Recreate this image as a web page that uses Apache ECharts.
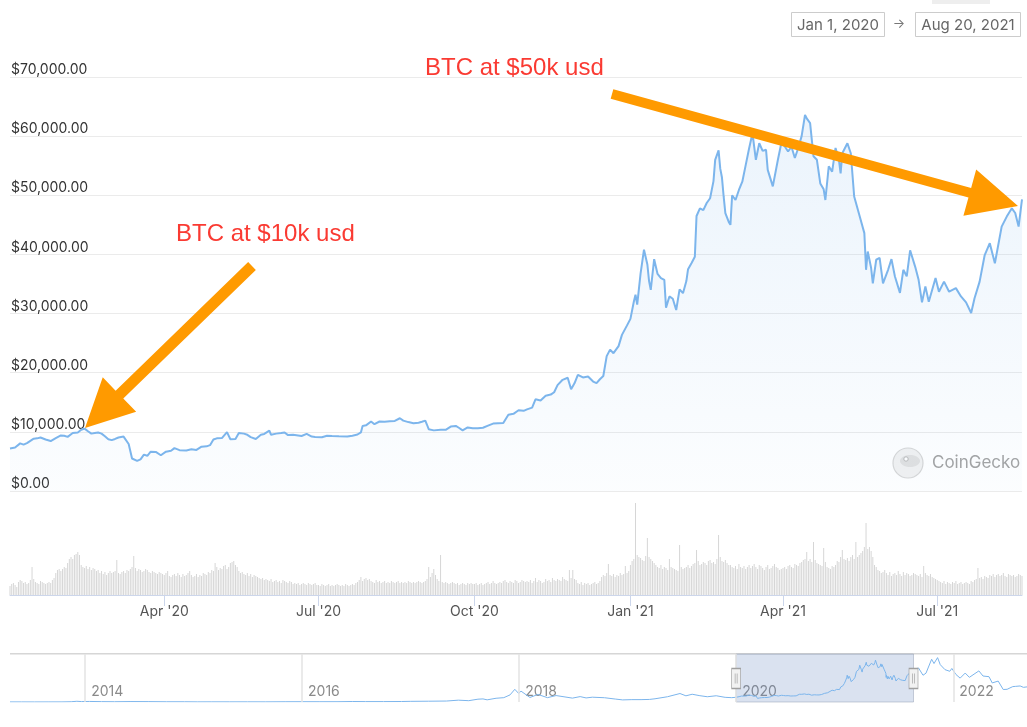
<!DOCTYPE html>
<html><head><meta charset="utf-8">
<script src="https://cdn.jsdelivr.net/npm/echarts@6/dist/echarts.min.js"></script>
<style>html,body{margin:0;padding:0;background:#fff}#c{width:1027px;height:727px}</style>
</head><body><div id="c"></div>
<script>
// ---------------- DATA ----------------
const priceDates = [
'2020-01-01','2020-01-04','2020-01-07','2020-01-09','2020-01-11','2020-01-15','2020-01-17','2020-01-19','2020-01-22','2020-01-25','2020-01-28','2020-01-31',
'2020-02-02','2020-02-04','2020-02-07','2020-02-10','2020-02-12','2020-02-14','2020-02-16','2020-02-18','2020-02-20','2020-02-22','2020-02-24','2020-02-26','2020-02-28',
'2020-03-01','2020-03-03','2020-03-05','2020-03-08','2020-03-09','2020-03-11','2020-03-13','2020-03-14','2020-03-16','2020-03-18','2020-03-20','2020-03-22','2020-03-24','2020-03-27','2020-03-30',
'2020-04-02','2020-04-05','2020-04-07','2020-04-10','2020-04-14','2020-04-17','2020-04-20','2020-04-23','2020-04-26','2020-04-28','2020-04-30',
'2020-05-02','2020-05-05','2020-05-08','2020-05-10','2020-05-11','2020-05-13','2020-05-15','2020-05-18','2020-05-20','2020-05-22','2020-05-25','2020-05-28','2020-05-30',
'2020-06-02','2020-06-03','2020-06-06','2020-06-09','2020-06-11','2020-06-13','2020-06-16','2020-06-19','2020-06-21','2020-06-24','2020-06-27','2020-06-29',
'2020-07-03','2020-07-06','2020-07-09','2020-07-13','2020-07-18','2020-07-21','2020-07-24','2020-07-26','2020-07-27','2020-07-29',
'2020-08-01','2020-08-03','2020-08-06','2020-08-09','2020-08-12','2020-08-15','2020-08-18','2020-08-20','2020-08-23','2020-08-26','2020-08-29','2020-08-31',
'2020-09-02','2020-09-03','2020-09-04','2020-09-07','2020-09-11','2020-09-14','2020-09-17','2020-09-20','2020-09-22','2020-09-24','2020-09-27','2020-09-30',
'2020-10-03','2020-10-06','2020-10-09','2020-10-12','2020-10-15','2020-10-18','2020-10-21','2020-10-24','2020-10-27','2020-10-30',
'2020-11-01','2020-11-04','2020-11-06','2020-11-09','2020-11-12','2020-11-15','2020-11-17','2020-11-19','2020-11-22','2020-11-25','2020-11-27','2020-11-29',
'2020-12-01','2020-12-04','2020-12-07','2020-12-10','2020-12-12','2020-12-14','2020-12-16','2020-12-18','2020-12-20','2020-12-22','2020-12-25','2020-12-27','2020-12-30',
'2021-01-01','2021-01-03','2021-01-04','2021-01-05','2021-01-07','2021-01-09','2021-01-11','2021-01-12','2021-01-13','2021-01-15','2021-01-17','2021-01-19','2021-01-21','2021-01-22','2021-01-24','2021-01-26','2021-01-27','2021-01-28','2021-01-30',
'2021-02-01','2021-02-03','2021-02-04','2021-02-06','2021-02-08','2021-02-09','2021-02-11','2021-02-13','2021-02-15','2021-02-17','2021-02-19','2021-02-20','2021-02-22','2021-02-23','2021-02-24','2021-02-25','2021-02-26','2021-02-28',
'2021-03-01','2021-03-02','2021-03-04','2021-03-06','2021-03-08','2021-03-10','2021-03-12','2021-03-14','2021-03-16','2021-03-18','2021-03-20','2021-03-22','2021-03-23','2021-03-26','2021-03-29','2021-03-31',
'2021-04-02','2021-04-04','2021-04-06','2021-04-08','2021-04-10','2021-04-12','2021-04-14','2021-04-15','2021-04-17','2021-04-19','2021-04-21','2021-04-23','2021-04-25','2021-04-26','2021-04-28','2021-04-30',
'2021-05-02','2021-05-04','2021-05-05','2021-05-06','2021-05-09','2021-05-11','2021-05-13','2021-05-16','2021-05-19','2021-05-20','2021-05-21','2021-05-23','2021-05-24','2021-05-26','2021-05-28','2021-05-30',
'2021-06-02','2021-06-04','2021-06-06','2021-06-09','2021-06-11','2021-06-13','2021-06-15','2021-06-18','2021-06-20','2021-06-22','2021-06-24','2021-06-26','2021-06-30',
'2021-07-02','2021-07-05','2021-07-08','2021-07-12','2021-07-15','2021-07-18','2021-07-21','2021-07-23','2021-07-26','2021-07-29',
'2021-08-01','2021-08-04','2021-08-08','2021-08-11','2021-08-14','2021-08-16','2021-08-18','2021-08-20'
];
const priceValues = [
7200,7350,8050,7850,8100,8850,8900,9050,8700,8450,8950,9400,
9350,9150,9800,9900,10350,10550,10100,9700,9800,9900,9700,9250,8750,
8600,8800,9050,9200,8900,7950,5500,5400,5100,5350,6150,5950,6650,6600,6050,
6650,6800,7250,6900,6850,7050,6950,7500,7550,7750,8700,
8900,8950,9950,8750,8600,8800,9800,9700,9500,9100,8800,9500,9650,
10200,9500,9700,9800,9900,9450,9500,9400,9300,9650,9200,9150,
9100,9350,9300,9250,9200,9350,9550,9900,11000,11100,
11750,11300,11750,11700,11800,11850,12300,11900,11650,11450,11550,11700,
11900,11200,10450,10250,10350,10350,10900,11000,10650,10250,10750,10600,
10600,10700,11050,11400,11450,11500,12900,13050,13650,13550,
13800,14100,15500,15300,16100,16300,16700,17900,18800,19150,17200,18200,
19650,19200,19350,18500,18250,18900,19450,22800,23900,23300,24500,26400,28000,
29100,32000,33200,31500,36800,40800,38300,35500,34000,39200,36700,36000,35700,31000,32900,32500,32700,30600,34100,
33450,35500,37500,38500,39600,46500,47800,47500,48700,49500,52400,56000,57600,54500,53000,49800,47000,45500,
45000,50000,49200,50900,52300,55100,57900,60500,56000,58800,57500,57700,54300,51500,56000,58800,
58300,57400,58200,56300,58000,60000,63600,63000,62200,56600,56000,52000,51000,49200,54900,54000,
58000,56000,53700,57100,58800,57100,49800,46700,43600,37400,40500,37700,35100,39100,39400,35100,
37400,39200,36300,33500,37400,36300,40700,37900,35700,31900,34600,32000,36000,
33700,35400,33700,34300,32900,31900,30100,32600,35400,39900,
41900,38500,44700,46400,47800,47000,44700,49300
];
// daily volume (billions USD), Jan 1 2020 .. Aug 20 2021
const volumeStart = '2020-01-01';
const volumes = [
9,11,12,10,8,13,15,14,12,13,11,12,15,28,16,13,12,11,14,13,12,11,12,13,12,15,17,22,25,26,24,
26,28,27,32,36,38,36,40,41,43,40,30,28,27,29,26,28,25,27,26,24,25,22,24,21,23,20,22,24,
22,23,24,35,22,21,23,24,22,25,24,26,28,39,27,24,26,25,23,24,26,25,23,22,24,23,22,21,23,22,21,
20,22,24,19,18,20,21,19,22,20,18,21,19,20,22,24,20,18,19,21,18,20,19,22,21,20,23,22,25,24,
32,28,25,27,26,29,30,26,28,32,33,34,30,28,24,22,23,21,20,22,19,21,18,20,19,18,17,16,17,15,16,
15,14,16,13,14,15,13,14,12,15,14,13,12,14,13,11,12,11,12,10,11,12,11,10,12,11,10,11,12,10,
10,9,11,10,9,10,11,9,10,9,10,11,10,9,10,9,11,10,9,10,11,10,12,13,15,18,14,16,17,15,16,
14,13,12,15,13,14,12,13,14,12,13,12,14,13,12,13,14,12,13,12,13,12,14,13,12,13,12,13,14,13,12,
13,14,16,28,18,22,26,20,16,14,40,13,12,13,12,11,12,13,12,11,12,10,11,12,11,10,12,11,12,11,
11,12,10,11,12,10,11,12,13,11,12,14,12,11,12,13,12,14,15,13,12,14,13,12,15,14,12,13,15,14,13,
14,13,15,12,14,17,13,15,14,12,13,16,14,15,13,17,15,14,16,15,14,18,16,15,14,25,17,25,16,15,
12,11,13,10,12,11,12,10,11,12,13,11,12,14,18,20,19,22,31,20,19,21,18,20,19,22,20,21,29,22,24,
30,34,36,92,40,38,37,35,34,39,57,38,36,34,32,30,28,27,30,26,28,27,25,36,28,27,26,25,24,50,28,
26,27,28,30,27,29,31,32,45,34,30,31,33,32,30,34,35,32,33,31,36,60,38,34,33,35,32,30,
30,28,27,29,26,31,28,27,29,26,28,30,27,29,31,28,26,30,29,27,25,28,30,26,27,29,31,28,27,25,26,
27,28,26,29,30,28,27,31,30,29,32,33,35,36,43,34,36,33,53,35,32,31,30,29,47,33,28,27,26,29,
28,30,34,33,38,45,36,35,37,34,38,40,36,53,38,40,42,44,48,72,46,48,44,38,30,28,25,24,22,23,25,
22,20,23,19,21,22,20,24,21,19,23,20,22,21,19,20,22,21,20,19,21,18,29,22,20,19,21,18,17,16,
15,14,13,12,14,11,13,12,11,13,12,14,11,12,13,11,12,13,12,11,14,13,15,16,27,17,18,16,19,18,17,
20,19,21,18,20,21,19,20,22,19,18,21,20,19,20,18,19,21,20,19
];
// navigator (full history)
const navEarlyDates = ['2013-04-23','2013-06-01','2013-07-15','2013-09-01','2013-10-15','2013-11-15','2013-12-04','2013-12-20',
'2014-01-15','2014-02-25','2014-04-10','2014-06-01','2014-08-01','2014-10-01','2014-12-01',
'2015-01-15','2015-03-01','2015-05-01','2015-07-01','2015-09-01','2015-11-05',
'2016-01-01','2016-03-01','2016-05-01','2016-06-18','2016-08-01','2016-10-01','2016-12-01',
'2017-01-01','2017-03-01','2017-05-01','2017-06-10','2017-07-15','2017-08-15','2017-09-01','2017-09-15','2017-10-15','2017-11-10','2017-12-01','2017-12-17','2017-12-30',
'2018-01-07','2018-02-06','2018-03-05','2018-04-06','2018-05-05','2018-06-29','2018-07-25','2018-08-14','2018-09-04','2018-10-15','2018-11-20','2018-12-15',
'2019-01-15','2019-02-15','2019-03-15','2019-04-03','2019-05-15','2019-06-26','2019-07-16','2019-08-06','2019-09-01','2019-09-26','2019-10-26','2019-11-25','2019-12-17'];
const navEarlyValues = [140,120,95,135,150,420,1100,650,
850,550,420,650,590,380,370,
210,260,235,260,230,400,
430,420,450,750,600,610,750,
1000,1200,1450,2800,2000,4300,4700,3300,5700,6600,10800,19300,13000,
16500,6900,11500,6600,9800,5900,8200,6200,7300,6500,4500,3200,
3600,3600,3900,4900,8000,12900,9400,11800,9600,8000,9500,7100,6600];
const navLateDates = ['2021-08-23','2021-09-06','2021-09-21','2021-10-01','2021-10-20','2021-10-28','2021-11-09','2021-11-18','2021-12-04','2021-12-20','2021-12-27',
'2022-01-10','2022-01-24','2022-02-10','2022-02-24','2022-03-28','2022-04-11','2022-05-01','2022-05-12','2022-06-01','2022-06-18','2022-07-01','2022-07-20','2022-07-30','2022-08-14','2022-08-25','2022-09-06'];
const navLateValues = [49500,51700,40700,43800,65000,58500,67500,56800,49200,46700,51000,
41800,36300,44000,37500,47300,39500,38500,29000,31800,19000,19300,23400,23800,24400,22300,23000];

// axis ticks / labels
const mainTickDates = ['2020-04-01','2020-07-01','2020-10-01','2021-01-01','2021-04-01','2021-07-01'];
const navYearTicks = ['2014-01-01','2016-01-01','2018-01-01','2020-01-01','2022-01-01'];
const rangeStart = '2020-01-01', rangeEnd = '2021-08-20';
const navStart = '2013-04-23', navEnd = '2022-09-06';
const monthNames = ['Jan','Feb','Mar','Apr','May','Jun','Jul','Aug','Sep','Oct','Nov','Dec'];

// ---------------- BUILD ----------------
const ts = s => new Date(s + 'T00:00:00').getTime();
const priceData = priceDates.map((d, i) => [ts(d), priceValues[i]]);
const v0 = ts(volumeStart);
const volData = volumes.map((v, i) => { const d = new Date(v0); d.setDate(d.getDate() + i); return [d.getTime(), v]; });
const navData = navEarlyDates.map((d, i) => [ts(d), navEarlyValues[i]])
  .concat(priceData)
  .concat(navLateDates.map((d, i) => [ts(d), navLateValues[i]]));
const NAV_MAX = 73000;

function fmtMoney(v) {
  const s = Math.round(v).toString().replace(/\B(?=(\d{3})+(?!\d))/g, ',');
  return '$' + s + '.00';
}
function arrow(tail, tip, sw, hw, hl, color) {
  const dx = tip[0] - tail[0], dy = tip[1] - tail[1], L = Math.hypot(dx, dy);
  const ux = dx / L, uy = dy / L, px = -uy, py = ux;
  const bx = tip[0] - ux * hl, by = tip[1] - uy * hl;
  const pts = [
    [tail[0] + px * sw / 2, tail[1] + py * sw / 2],
    [bx + px * sw / 2, by + py * sw / 2],
    [bx + px * hw / 2, by + py * hw / 2],
    [tip[0], tip[1]],
    [bx - px * hw / 2, by - py * hw / 2],
    [bx - px * sw / 2, by - py * sw / 2],
    [tail[0] - px * sw / 2, tail[1] - py * sw / 2]
  ];
  return { type: 'polygon', z: 100, shape: { points: pts }, style: { fill: color } };
}

const FONT = 'Inter, "Noto Sans", sans-serif';
const chart = echarts.init(document.getElementById('c'), null, { renderer: 'canvas' });
chart.setOption({
  animation: false,
  backgroundColor: '#ffffff',
  grid: [
    { left: 10, right: 5, top: 77, height: 414 },
    { left: 10, right: 5, top: 495, height: 100 },
    { left: 10, right: 0, top: 654, height: 48 }
  ],
  xAxis: [
    { gridIndex: 0, type: 'value', min: ts(rangeStart), max: ts(rangeEnd), show: false, splitLine: { show: false } },
    { gridIndex: 1, type: 'value', min: ts(rangeStart), max: ts(rangeEnd),
      axisLine: { show: true, lineStyle: { color: '#ccd6eb', width: 1 } },
      axisTick: { show: true, length: 11, lineStyle: { color: '#ccd6eb' }, customValues: mainTickDates.map(ts) },
      axisLabel: { show: true, customValues: mainTickDates.map(ts), margin: 10, color: '#555', fontSize: 14, fontFamily: FONT,
        formatter: v => { const d = new Date(v); return monthNames[d.getMonth()] + " '" + String(d.getFullYear()).slice(2); } },
      splitLine: { show: false } },
    { gridIndex: 2, type: 'value', min: ts(navStart), max: ts(navEnd),
      axisLine: { show: false }, axisTick: { show: false }, splitLine: { show: false },
      axisLabel: { show: true, inside: true, customValues: navYearTicks.map(ts), margin: 3, color: '#8a8a8a', fontSize: 14, fontFamily: FONT,
        align: 'left', padding: [0, 0, 0, 6], verticalAlign: 'bottom',
        formatter: v => String(new Date(v).getFullYear()) } }
  ],
  yAxis: [
    { gridIndex: 0, type: 'value', min: 0, max: 70000, interval: 10000,
      axisLine: { show: false }, axisTick: { show: false },
      splitLine: { show: true, lineStyle: { color: '#ebebeb', width: 1 } },
      axisLabel: { inside: true, margin: 1, align: 'left', verticalAlign: 'bottom', color: '#333', fontSize: 14, fontFamily: FONT,
        formatter: fmtMoney } },
    { gridIndex: 1, type: 'value', min: 0, max: 100, show: false, splitLine: { show: false } },
    { gridIndex: 2, type: 'value', min: 0, max: NAV_MAX, show: false, splitLine: { show: false } }
  ],
  series: [
    { type: 'line', xAxisIndex: 0, yAxisIndex: 0, data: priceData, showSymbol: false, symbol: 'none', z: 3,
      lineStyle: { color: '#7cb5ec', width: 2 },
      areaStyle: { color: new echarts.graphic.LinearGradient(0, 0, 0, 1, [
        { offset: 0, color: 'rgba(124,181,236,0.22)' }, { offset: 1, color: 'rgba(124,181,236,0.04)' }]) } },
    { type: 'bar', xAxisIndex: 1, yAxisIndex: 1, data: volData, barWidth: 1, itemStyle: { color: '#d6d6d6' } },
    { type: 'line', xAxisIndex: 2, yAxisIndex: 2, data: navData, showSymbol: false, symbol: 'none',
      lineStyle: { color: '#7cb5ec', width: 1 },
      markLine: { silent: true, symbol: ['none', 'none'], label: { show: false },
        lineStyle: { color: '#e3e3e3', type: 'solid', width: 1.5 },
        data: navYearTicks.map(d => ({ xAxis: ts(d) })) },
      markArea: { silent: true, itemStyle: { color: 'rgba(102,133,194,0.24)', borderColor: 'rgba(150,160,180,0.5)', borderWidth: 1 },
        data: [[{ xAxis: ts(rangeStart) }, { xAxis: ts(rangeEnd) }]] },
      markPoint: { silent: true, symbol: 'path://M0,0H9V20H0Z M3.5,5V15 M5.5,5V15', symbolSize: [9, 20], symbolKeepAspect: false,
        itemStyle: { color: '#f2f2f2', borderColor: '#a0a0a0', borderWidth: 1 }, label: { show: false },
        data: [{ coord: [ts(rangeStart), NAV_MAX * 0.49] }, { coord: [ts(rangeEnd), NAV_MAX * 0.49] }] } }
  ],
  graphic: [
    { type: 'rect', shape: { x: 932, y: 0, width: 58, height: 4 }, style: { fill: '#eeeeee' } },
    { type: 'rect', shape: { x: 791.5, y: 12.5, width: 93, height: 24 }, style: { fill: '#fff', stroke: '#cccccc', lineWidth: 1 } },
    { type: 'text', x: 838, y: 25, style: { text: 'Jan 1, 2020', fill: '#666', font: '15px ' + FONT, align: 'center', verticalAlign: 'middle' } },
    { type: 'text', x: 899, y: 24, style: { text: '→', fill: '#777', font: '13px ' + FONT, align: 'center', verticalAlign: 'middle' } },
    { type: 'rect', shape: { x: 915.5, y: 12.5, width: 105, height: 24 }, style: { fill: '#fff', stroke: '#cccccc', lineWidth: 1 } },
    { type: 'text', x: 968, y: 25, style: { text: 'Aug 20, 2021', fill: '#666', font: '15px ' + FONT, align: 'center', verticalAlign: 'middle' } },
    { type: 'rect', shape: { x: 10, y: 653, width: 1017, height: 1.5 }, style: { fill: '#d6d6d6' } },
    { type: 'circle', shape: { cx: 908, cy: 463, r: 15 }, style: { fill: '#f1f1f1', stroke: '#d6d6d6', lineWidth: 1.2 } },
    { type: 'ellipse', shape: { cx: 910, cy: 461, rx: 10, ry: 6 }, style: { fill: '#e0e0e0' } },
    { type: 'circle', shape: { cx: 906, cy: 459, r: 2.2 }, style: { fill: '#ffffff', stroke: '#b8b8b8', lineWidth: 1 } },
    { type: 'text', x: 932, y: 463, style: { text: 'CoinGecko', fill: '#a3a3a3', font: '17px ' + FONT, align: 'left', verticalAlign: 'middle' } },
    { type: 'text', x: 425, y: 68, z: 100, style: { text: 'BTC at $50k usd', fill: '#fa3a32', font: '24px "Liberation Sans", Arial, sans-serif', align: 'left', verticalAlign: 'middle' } },
    { type: 'text', x: 176, y: 234, z: 100, style: { text: 'BTC at $10k usd', fill: '#fa3a32', font: '24px "Liberation Sans", Arial, sans-serif', align: 'left', verticalAlign: 'middle' } },
    arrow([252, 266], [85, 428], 11, 48, 48, '#ff9a00'),
    arrow([612, 94], [1018, 206], 10, 48, 50, '#ff9a00')
  ]
});
</script></body></html>
